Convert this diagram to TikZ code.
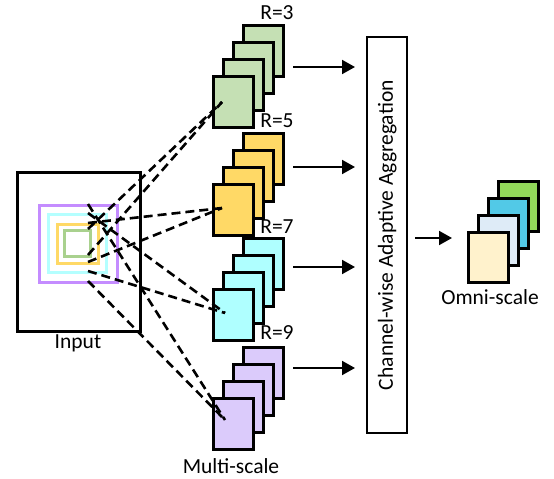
\documentclass[tikz,border=0pt]{standalone}
\usepackage{fontspec}
\setmainfont{Carlito}
\usetikzlibrary{arrows.meta}
\definecolor{cgreen}{HTML}{C5E0B4}
\definecolor{cyellow}{HTML}{FFD966}
\definecolor{ccyan}{HTML}{AFFFFF}
\definecolor{cpurple}{HTML}{DBCBFB}
\definecolor{ocream}{HTML}{FFF2CC}
\definecolor{olblue}{HTML}{DEEBF7}
\definecolor{oblue}{HTML}{52C9E7}
\definecolor{ogreen}{HTML}{92D75A}
\definecolor{sqpurple}{HTML}{C48CFF}
\definecolor{sqcyan}{HTML}{B4FFFF}
\definecolor{sqyellow}{HTML}{FFD966}
\definecolor{sqgreen}{HTML}{A9D18E}
\tikzset{
  card/.style={draw=black, line width=2.6bp, anchor=north west, minimum width=40bp, minimum height=51bp, inner sep=0pt},
  ocard/.style={card, minimum height=50bp},
  sq/.style={line width=2.8bp, fill=none},
  dsh/.style={draw=black, line width=2.6bp, dash pattern=on 9bp off 5bp},
  arr/.style={draw=black, line width=2bp, -{Triangle[length=13bp,width=14bp]}},
  lbl/.style={font=\fontsize{21.5bp}{25bp}\selectfont, inner sep=0pt},
}
\begin{document}
\begin{tikzpicture}[x=1bp,y=-1bp]
\useasboundingbox (0,0) rectangle (554,479);
% input
\node[draw=black, line width=2.8bp, anchor=north west, minimum width=123bp, minimum height=159bp, inner sep=0pt] (input) at (16,171) {};
\node[lbl] (inlbl) at (78,343) {Input};
\node[sq, draw=sqpurple, minimum width=78bp, minimum height=77bp, inner sep=0pt, anchor=north west] (sqp) at (38,204) {};
\node[sq, draw=sqcyan, minimum width=58bp, minimum height=58bp, inner sep=0pt, anchor=north west] (sqc) at (47,213) {};
\node[sq, draw=sqyellow, minimum width=41bp, minimum height=39bp, inner sep=0pt, anchor=north west] (sqy) at (56,223) {};
\node[sq, draw=sqgreen, minimum width=26bp, minimum height=26bp, inner sep=0pt, anchor=north west] (sqg) at (63,229) {};
% stacks
\foreach \i in {3,2,1,0} {
  \node[card, fill=cgreen] (g\i) at ({212+10*\i},{75-17*\i}) {};
}
\foreach \i in {3,2,1,0} {
  \node[card, fill=cyellow] (y\i) at ({212+10*\i},{183-17*\i}) {};
}
\foreach \i in {3,2,1,0} {
  \node[card, fill=ccyan] (c\i) at ({212+10*\i},{288-17*\i}) {};
}
\foreach \i in {3,2,1,0} {
  \node[card, fill=cpurple] (p\i) at ({212+10*\i},{397-17*\i}) {};
}
\node[lbl] (r3) at (277,13) {R=3};
\node[lbl] (r5) at (277,121) {R=5};
\node[lbl] (r7) at (277,227) {R=7};
\node[lbl] (r9) at (277,333) {R=9};
\node[lbl] (ms) at (231,466) {Multi-scale};
% aggregation box
\node[draw=black, line width=2.4bp, anchor=north west, minimum width=40bp, minimum height=396bp, inner sep=0pt] (agg) at (366,36) {};
\node[lbl, rotate=90] (aggt) at (agg.center) {Channel-wise Adaptive Aggregation};
% arrows stack -> agg
\coordinate (a1s) at (293,67);  \coordinate (a1e) at (agg.west |- a1s);
\coordinate (a2s) at (293,167); \coordinate (a2e) at (agg.west |- a2s);
\coordinate (a3s) at (293,267); \coordinate (a3e) at (agg.west |- a3s);
\coordinate (a4s) at (293,368); \coordinate (a4e) at (agg.west |- a4s);
\draw[arr] (a1s) -- ([xshift=-11bp]a1e);
\draw[arr] (a2s) -- ([xshift=-11bp]a2e);
\draw[arr] (a3s) -- ([xshift=-11bp]a3e);
\draw[arr] (a4s) -- ([xshift=-11bp]a4e);
% omni stack
\node[ocard, fill=ogreen] (o3) at (497,180) {};
\node[ocard, fill=oblue] (o2) at (487,197) {};
\node[ocard, fill=olblue] (o1) at (477,214) {};
\node[ocard, fill=ocream] (o0) at (467,231) {};
\node[lbl] (omni) at (490,297) {Omni-scale};
\coordinate (oa) at (agg.east |- 0,238);
\draw[arr] ([xshift=7bp]oa) -- (452,238);
% dashed projections
\coordinate (gt) at (88,229); \coordinate (gb) at (88,255); \coordinate (ge) at (222,102);
\coordinate (yt) at (88,223); \coordinate (yb) at (88,262); \coordinate (ye) at (222,208);
\coordinate (ct) at (88,213); \coordinate (cb) at (88,271); \coordinate (ce) at (225,313);
\coordinate (pt) at (88,204); \coordinate (pb) at (88,281); \coordinate (pe) at (225,420);
\draw[dsh] (gt) -- (ge); \draw[dsh] (gb) -- (ge);
\draw[dsh] (yt) -- (ye); \draw[dsh] (yb) -- (ye);
\draw[dsh] (ct) -- (ce); \draw[dsh] (cb) -- (ce);
\draw[dsh] (pt) -- (pe); \draw[dsh] (pb) -- (pe);
\end{tikzpicture}
\end{document}
